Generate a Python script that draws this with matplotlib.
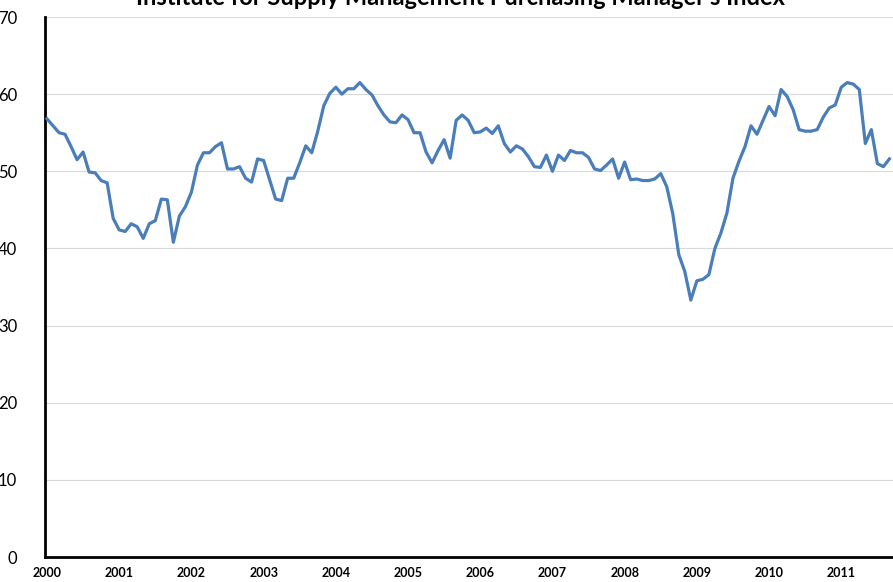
import matplotlib
matplotlib.use('Agg')
import matplotlib.pyplot as plt
import numpy as np

# monthly ISM PMI readings, Jan 2000 .. Sep 2011
pmi_2000 = [56.8, 55.9, 55.0, 54.8, 53.2, 51.5, 52.5, 49.9, 49.8, 48.8, 48.5, 43.9]
pmi_2001 = [42.4, 42.2, 43.2, 42.8, 41.3, 43.2, 43.6, 46.4, 46.3, 40.8, 44.2, 45.4]
pmi_2002 = [47.3, 50.8, 52.4, 52.4, 53.2, 53.7, 50.3, 50.3, 50.6, 49.1, 48.6, 51.6]
pmi_2003 = [51.4, 48.9, 46.4, 46.2, 49.1, 49.1, 51.1, 53.3, 52.4, 55.2, 58.5, 60.1]
pmi_2004 = [60.9, 60.0, 60.7, 60.7, 61.5, 60.6, 59.9, 58.5, 57.3, 56.4, 56.3, 57.3]
pmi_2005 = [56.7, 55.0, 55.0, 52.5, 51.1, 52.7, 54.1, 51.7, 56.6, 57.3, 56.6, 55.0]
pmi_2006 = [55.1, 55.6, 54.9, 55.9, 53.6, 52.5, 53.3, 52.9, 51.9, 50.6, 50.5, 52.1]
pmi_2007 = [50.0, 52.1, 51.4, 52.7, 52.4, 52.4, 51.8, 50.3, 50.1, 50.8, 51.6, 49.1]
pmi_2008 = [51.2, 48.9, 49.0, 48.8, 48.8, 49.0, 49.7, 48.0, 44.5, 39.2, 37.0, 33.3]
pmi_2009 = [35.8, 36.0, 36.6, 40.0, 42.0, 44.6, 49.1, 51.3, 53.2, 55.9, 54.8, 56.6]
pmi_2010 = [58.4, 57.2, 60.6, 59.7, 58.0, 55.4, 55.2, 55.2, 55.4, 57.0, 58.2, 58.6]
pmi_2011 = [60.9, 61.5, 61.3, 60.6, 53.6, 55.4, 51.0, 50.6, 51.6]

years = ['2000', '2001', '2002', '2003', '2004', '2005',
         '2006', '2007', '2008', '2009', '2010', '2011']
y_ticks = [0, 10, 20, 30, 40, 50, 60, 70]

pmi = (pmi_2000 + pmi_2001 + pmi_2002 + pmi_2003 + pmi_2004 + pmi_2005 +
       pmi_2006 + pmi_2007 + pmi_2008 + pmi_2009 + pmi_2010 + pmi_2011)
months = np.arange(len(pmi))

fig = plt.figure(figsize=(8.93, 5.82), dpi=100)
ax = fig.add_axes([45 / 893, 25 / 582, 848 / 893, 540 / 582])

ax.plot(months, pmi, color='#4a7ebb', linewidth=2.3, solid_joinstyle='round', zorder=3)

ax.set_ylim(0, 70)
ax.set_xlim(-0.33, 140.6)
ax.set_yticks(y_ticks)
ax.set_yticklabels([str(v) for v in y_ticks], fontfamily='Lato', fontsize=12)
ax.set_xticks(np.arange(len(years)) * 12)
ax.set_xticklabels(years, fontfamily='Lato', fontweight='bold', fontsize=9)
ax.tick_params(axis='both', length=0)
ax.tick_params(axis='y', pad=20)
ax.tick_params(axis='x', pad=7)

ax.yaxis.grid(True, color='#d9d9d9', linewidth=0.8)
ax.set_axisbelow(True)
for side in ['top', 'right']:
    ax.spines[side].set_visible(False)
ax.spines['left'].set_linewidth(2)
ax.spines['bottom'].set_linewidth(2)

fig.text(460 / 893, 1 - 5 / 582, "Institute for Supply Management Purchasing Manager's Index",
         ha='center', va='baseline', fontfamily='Lato', fontweight='bold', fontsize=17)

fig.savefig('out.png', dpi=100)
